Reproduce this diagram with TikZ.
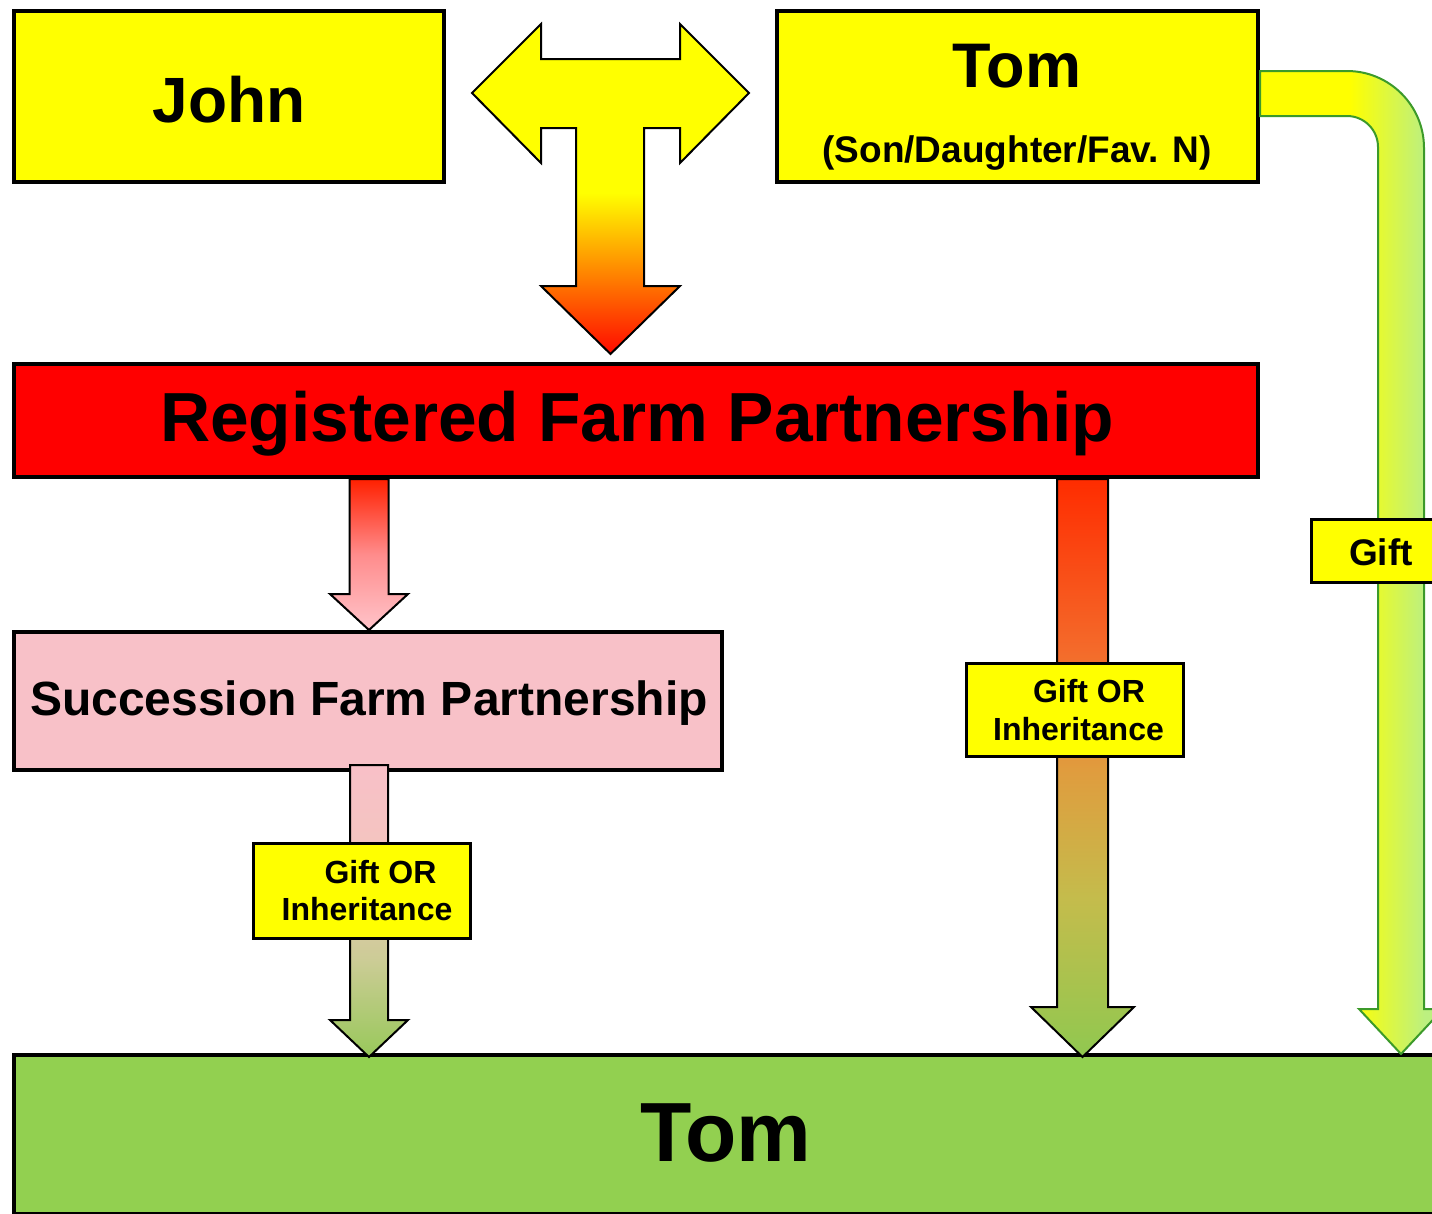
\documentclass[tikz,border=0pt]{standalone}
\usepackage{fontspec}
\setmainfont{Liberation Sans}
\usetikzlibrary{calc}
\newcommand\bfsz[1]{\fontsize{#1pt}{#1pt}\selectfont\bfseries}
\definecolor{yel}{RGB}{255,255,0}
\definecolor{redbox}{RGB}{255,0,0}
\definecolor{pinkbox}{HTML}{F8C1C8}
\definecolor{greenbox}{HTML}{92D050}
\definecolor{giftgreen}{HTML}{3C9A2A}
\definecolor{giftlight}{HTML}{BCF080}
\definecolor{tRed}{HTML}{FF0A00}
\definecolor{rtA}{HTML}{FF2C00}
\definecolor{rtB}{HTML}{F46A2A}
\definecolor{rtC}{HTML}{E09C3E}
\definecolor{rtD}{HTML}{C4BC4C}
\definecolor{rtE}{HTML}{90C850}
\definecolor{rsA}{HTML}{FF2000}
\definecolor{rsB}{HTML}{FF8C8C}
\definecolor{rsC}{HTML}{FFC4CA}
\definecolor{stA}{HTML}{F8C0C8}
\definecolor{stB}{HTML}{F4C4C0}
\definecolor{stC}{HTML}{CCCC96}
\definecolor{stD}{HTML}{98C85A}
\pgfdeclareverticalshading{tshade}{100bp}{color(0bp)=(tRed); color(25bp)=(tRed); color(49.4bp)=(yel); color(100bp)=(yel)}
\pgfdeclareverticalshading{rtshade}{100bp}{color(0bp)=(rtE); color(25bp)=(rtE); color(38.7bp)=(rtD); color(49.9bp)=(rtC); color(60.3bp)=(rtB); color(75bp)=(rtA); color(100bp)=(rtA)}
\pgfdeclareverticalshading{rsshade}{100bp}{color(0bp)=(rsC); color(25bp)=(rsC); color(50bp)=(rsB); color(75bp)=(rsA); color(100bp)=(rsA)}
\pgfdeclareverticalshading{stshade}{100bp}{color(0bp)=(stD); color(25bp)=(stD); color(41.7bp)=(stC); color(61.9bp)=(stB); color(75bp)=(stA); color(100bp)=(stA)}
\pgfdeclarehorizontalshading{giftshade}{100bp}{color(0bp)=(yel); color(49.6bp)=(yel); color(70bp)=(giftlight); color(100bp)=(giftlight)}
% down block arrow: #1 options, #2 top coordinate, #3 tip coordinate, #4 shaft half width, #5 head half width, #6 head length
\newcommand\downblock[6]{%
  \path[#1] ($(#2)+(-#4,0)$) -- ($(#3)+(-#4,-#6)$) -- ($(#3)+(-#5,-#6)$) -- (#3)
    -- ($(#3)+(#5,-#6)$) -- ($(#3)+(#4,-#6)$) -- ($(#2)+(#4,0)$) -- cycle;}
\begin{document}
\begin{tikzpicture}[x=1pt, y=-1pt,
  box/.style={draw=black, line width=4pt, inner sep=0pt},
  lbl/.style={draw=black, line width=2.5pt, fill=yel, inner sep=0pt},
  txt/.style={anchor=base, inner sep=0pt, font=\bfsz{#1}},
  blk/.style={draw=black, line width=2pt, line join=miter, shade, shading=#1}]
\path[use as bounding box] (0,0) rectangle (1432,1213);
\fill[white] (0,0) rectangle (1432,1213);
\clip (0,0) rectangle (1432,1213);

% boxes
\node[box, fill=yel, minimum width=430pt, minimum height=171pt] (john) at (229,96.5) {};
\node[txt=64] (johnt) at (229,122) {John};
\node[box, fill=yel, minimum width=481pt, minimum height=171pt] (tomt) at (1017.5,96.5) {};
\node[txt=63] (tomtt) at (1017,87) {Tom};
\node[txt=37] (tomsub) at (1017,162) {(Son/Daughter/Fav. N)};
\node[box, fill=redbox, minimum width=1244pt, minimum height=113pt] (reg) at (636,420.5) {};
\node[txt=69.5] (regt) at (637,441) {Registered Farm Partnership};
\node[box, fill=pinkbox, minimum width=708pt, minimum height=138pt] (succ) at (368,701) {};
\node[txt=48] (succt) at (369,715) {Succession Farm Partnership};
\node[box, fill=greenbox, minimum width=1426pt, minimum height=159pt] (tomb) at (727,1134.5) {};
\node[txt=84] (tombt) at (726,1161) {Tom};

% T-shaped arrow between John and Tom, down to the partnership
\path[blk=tshade] (472,93) -- (541,24) -- (541,59) -- (680,59) -- (680,24) -- (749,93)
  -- (680,163) -- (680,128) -- (644,128) -- (644,286) -- (680,286) -- (610.5,354)
  -- (541,286) -- (576,286) -- (576,128) -- (541,128) -- (541,163) -- cycle;

% down arrows
\coordinate (ax1) at (369,0);
\coordinate (ax2) at (1082.5,0);
\coordinate (rsTop) at (reg.south -| ax1);
\coordinate (rsTip) at (succ.north -| ax1);
\coordinate (stTop) at ($(succ.south -| ax1)+(0,-7)$);
\coordinate (stTip) at ($(tomb.north -| ax1)+(0,4)$);
\coordinate (rtTop) at (reg.south -| ax2);
\coordinate (rtTip) at ($(tomb.north -| ax2)+(0,4)$);
\downblock{blk=rsshade}{rsTop}{rsTip}{19.5}{39}{36}
\downblock{blk=stshade}{stTop}{stTip}{19}{39}{37}
\downblock{blk=rtshade}{rtTop}{rtTip}{25.5}{51.5}{50}

% curved Gift arrow from Tom (top) to Tom (bottom)
\coordinate (gy1) at (0,71);
\coordinate (gy2) at (0,116);
\path[draw=giftgreen, line width=2pt, line join=miter, shade, shading=giftshade]
  (tomt.east |- gy1) -- (1347,71) .. controls (1389.5,71) and (1424,105.5) .. (1424,148)
  -- (1424,1009) -- (1443,1009) -- (1401,1054) -- (1359,1009) -- (1378,1009)
  -- (1378,147) .. controls (1378,129.9) and (1364.1,116) .. (1347,116)
  -- (tomt.east |- gy2) -- cycle;

% labels
\node[lbl, minimum width=217pt, minimum height=95pt] (lblL) at (362,891) {};
\node[txt=32] (lblLa) at (380.5,883) {Gift OR};
\node[txt=32] (lblLb) at (367,920) {Inheritance};
\node[lbl, minimum width=217pt, minimum height=93pt] (lblR) at (1075,710) {};
\node[txt=32] (lblRa) at (1089,702) {Gift OR};
\node[txt=32] (lblRb) at (1078.5,740) {Inheritance};
\node[lbl, minimum width=140pt, minimum height=63pt] (lblG) at (1381.5,551) {};
\node[txt=37] (lblGt) at (1381,565) {Gift};
\end{tikzpicture}
\end{document}
